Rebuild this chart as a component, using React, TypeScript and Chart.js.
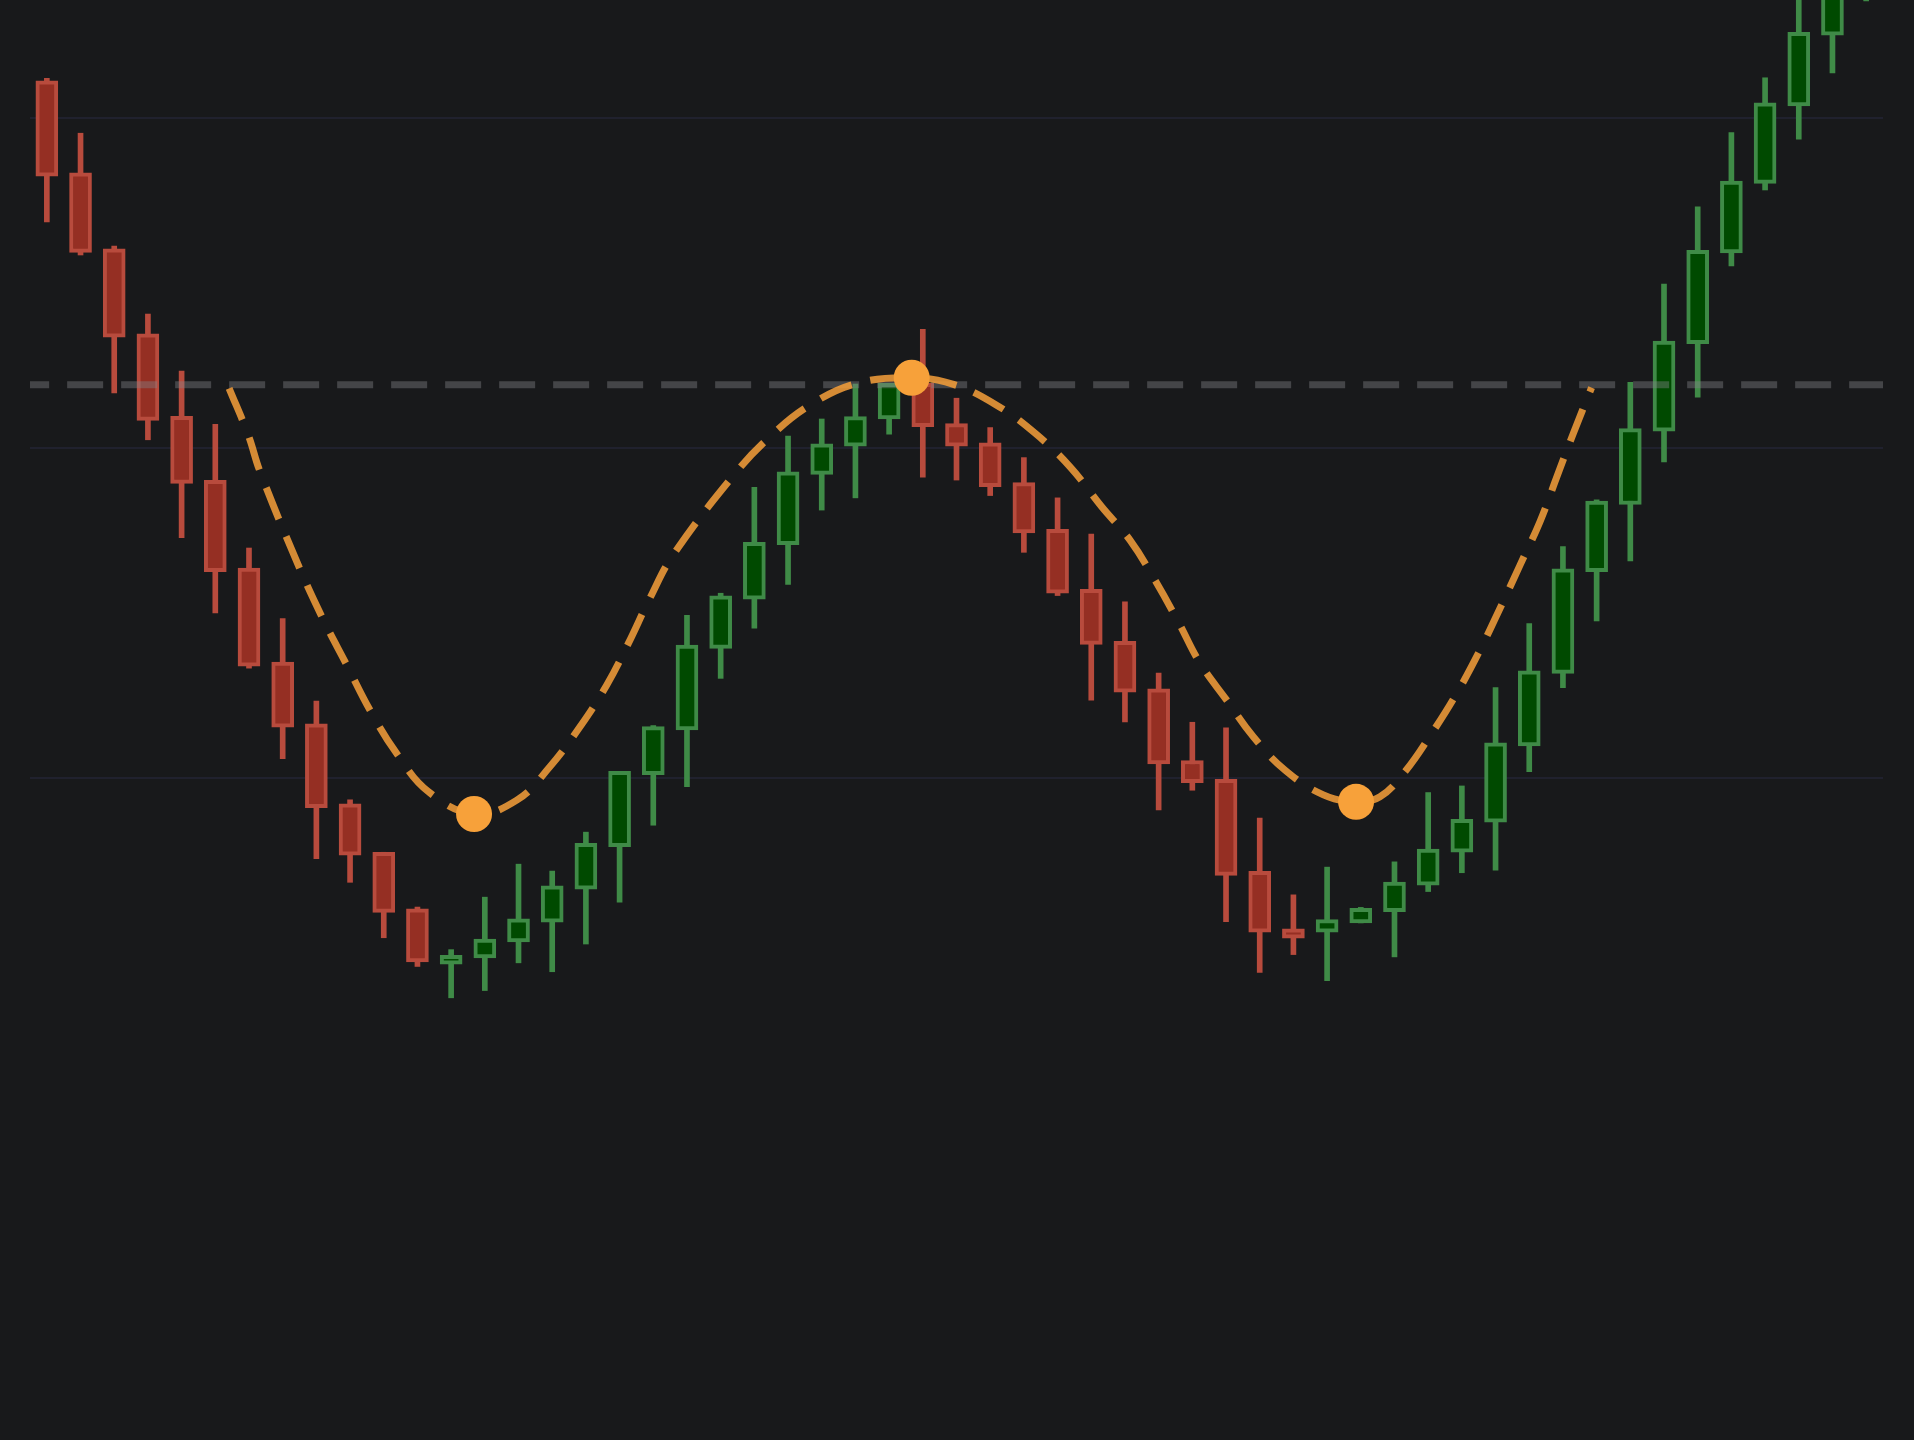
import { Chart, registerables } from "chart.js";
import { useEffect, useRef } from "react";

Chart.register(...registerables);

// candles (one per session, left to right)
const opens = [
  121.12, 118.33, 116.03, 113.45, 110.95, 109.01, 106.35, 103.5, 101.63, 99.21,
  97.74, 96.03, 94.35, 94.54, 95.02, 95.62, 96.62, 97.91, 100.09, 101.45,
  103.92, 105.41, 107.06, 109.19, 110.05, 110.87, 111.95, 110.73, 110.15, 108.94,
  107.53, 105.71, 104.13, 102.69, 100.52, 99.95, 97.16, 95.42, 95.32, 95.6,
  95.94, 96.74, 97.74, 98.65, 100.96, 103.16, 106.24, 108.28, 110.5, 113.15,
  115.9, 118.01, 120.36, 122.5, 124.6,
];
const closes = [
  118.23, 115.92, 113.35, 110.83, 108.92, 106.24, 103.38, 101.53, 99.09, 97.65,
  95.92, 94.42, 94.62, 95.11, 95.72, 96.72, 98.01, 100.19, 101.55, 104.02,
  105.51, 107.13, 109.27, 110.12, 110.94, 111.95, 110.64, 110.05, 108.82, 107.42,
  105.59, 104.04, 102.59, 100.42, 99.85, 97.04, 95.32, 95.14, 95.7, 96.04,
  96.84, 97.84, 98.74, 101.06, 103.24, 106.33, 108.38, 110.58, 113.23, 115.98,
  118.08, 120.45, 122.59, 124.9, 126.8,
];
const highs = [
  121.19, 119.53, 116.11, 114.05, 112.32, 110.71, 106.96, 104.82, 102.32, 99.33,
  97.74, 96.08, 94.79, 96.38, 97.38, 97.17, 98.35, 100.19, 101.58, 104.92,
  105.59, 108.8, 110.35, 110.87, 111.93, 111.95, 113.59, 111.5, 110.61, 109.7,
  108.48, 107.38, 105.33, 103.17, 101.68, 101.51, 98.78, 96.45, 97.29, 96.07,
  97.45, 99.55, 99.75, 102.73, 104.67, 107.0, 108.42, 111.98, 114.96, 117.3,
  119.55, 121.21, 124.1, 125.7, 127.5,
];
const lows = [
  116.84, 115.84, 111.66, 110.24, 107.27, 104.99, 103.32, 100.58, 97.55, 96.83,
  95.15, 94.28, 93.33, 93.55, 94.39, 94.12, 94.96, 96.23, 98.56, 99.73,
  103.01, 104.53, 105.86, 108.11, 108.48, 110.41, 109.11, 109.02, 108.55, 106.83,
  105.52, 102.35, 101.69, 99.02, 99.62, 95.64, 94.1, 94.64, 93.85, 95.6,
  94.57, 96.55, 97.12, 97.2, 100.18, 102.73, 104.75, 106.57, 109.57, 111.53,
  115.51, 117.81, 119.35, 121.36, 123.54,
];

// pattern outline (dashed orange curve)
const curveX = [
  5.41, 5.98, 6.33, 7.46, 8.21, 8.9, 9.59, 10.38, 11.32, 12.68, 13.95, 14.93,
  15.83, 16.62, 17.26, 17.9, 18.59, 20.43, 21.46, 22.65, 24.04, 25.67, 26.91,
  28.19, 29.33, 30.37, 31.31, 32.15, 32.89, 33.58, 34.23, 35.02, 35.81, 36.75,
  37.89, 38.86, 39.57, 40.31, 41.11, 41.85, 42.54, 43.13, 43.73, 44.32, 44.82,
  45.31, 45.85,
];
const curveY = [
  111.8, 110.38, 109.27, 106.45, 104.78, 103.42, 102.05, 100.74, 99.58, 98.9,
  99.32, 100.33, 101.55, 102.81, 104.07, 105.44, 106.75, 109.22, 110.33, 111.29,
  111.95, 112.12, 111.92, 111.29, 110.44, 109.42, 108.21, 107.2, 105.99, 104.73,
  103.47, 102.35, 101.24, 100.23, 99.48, 99.27, 99.42, 100.18, 101.35, 102.56,
  103.87, 105.13, 106.45, 107.76, 109.12, 110.44, 111.82,
];

// bottom, peak, bottom markers
const pivotX = [12.68, 25.67, 38.86];
const pivotY = [98.9, 112.12, 99.27];

const neckline = 111.91;
const gridValues = [100, 110, 120];

const GREEN_FILL = "#004a00";
const GREEN_LINE = "#3f8b47";
const RED_FILL = "#952f23";
const RED_LINE = "#b84b3d";

const isUp = (i: number) => closes[i] >= opens[i];

const App = () => {
  const chartRef = useRef<Chart | null>(null);
  const canvasRef = useRef<HTMLCanvasElement | null>(null);

  useEffect(() => {
    if (!canvasRef.current) return;
    if (chartRef.current) chartRef.current.destroy();

    const ctx = canvasRef.current.getContext("2d");
    if (!ctx) return;

    chartRef.current = new Chart(ctx, {
      type: "bar",
      data: {
        datasets: [
          {
            type: "line",
            label: "pivots",
            data: pivotX.map((x, i) => ({ x, y: pivotY[i] })),
            showLine: false,
            pointRadius: 18,
            pointBackgroundColor: "#f7a13a",
            pointBorderWidth: 0,
            order: 1,
          },
          {
            type: "line",
            label: "pattern",
            data: curveX.map((x, i) => ({ x, y: curveY[i] })),
            borderColor: "rgba(247, 160, 58, 0.85)",
            borderWidth: 7,
            borderDash: [34, 19],
            tension: 0.4,
            pointRadius: 0,
            order: 2,
          },
          {
            type: "line",
            label: "neckline",
            data: [
              { x: -1, y: neckline },
              { x: 56, y: neckline },
            ],
            borderColor: "rgba(130, 130, 135, 0.42)",
            borderWidth: 7,
            borderDash: [36, 18],
            pointRadius: 0,
            clip: 0,
            order: 3,
          },
          {
            label: "body",
            data: opens.map((o, i) => ({ x: i, y: [o, closes[i]] })) as any,
            backgroundColor: (c: any) => (isUp(c.dataIndex) ? GREEN_FILL : RED_FILL),
            borderColor: (c: any) => (isUp(c.dataIndex) ? GREEN_LINE : RED_LINE),
            borderWidth: 4,
            borderSkipped: false,
            barThickness: 22,
            grouped: false,
            order: 4,
          },
          {
            label: "wick",
            data: lows.map((l, i) => ({ x: i, y: [l, highs[i]] })) as any,
            backgroundColor: (c: any) => (isUp(c.dataIndex) ? GREEN_LINE : RED_LINE),
            borderWidth: 0,
            barThickness: 5,
            grouped: false,
            order: 5,
          },
        ],
      },
      options: {
        responsive: true,
        maintainAspectRatio: false,
        animation: false,
        events: [],
        layout: {
          autoPadding: false,
          padding: { left: 30, right: 31, top: 0, bottom: 0 },
        },
        scales: {
          x: {
            type: "linear",
            min: -0.5,
            max: 54.5,
            offset: false,
            display: false,
          },
          y: {
            min: 79.93,
            max: 123.567,
            border: { display: false },
            grid: { color: "#20212e", lineWidth: 2, drawTicks: false },
            ticks: { display: false },
            afterBuildTicks: (scale: any) => {
              scale.ticks = gridValues.map((v) => ({ value: v }));
            },
          },
        },
        plugins: {
          legend: { display: false },
          tooltip: { enabled: false },
        },
      },
    });

    return () => {
      if (chartRef.current) chartRef.current.destroy();
    };
  }, []);

  return (
    <div style={{ position: "fixed", inset: 0, background: "#18191b" }}>
      <canvas ref={canvasRef}></canvas>
    </div>
  );
};

export default App;
